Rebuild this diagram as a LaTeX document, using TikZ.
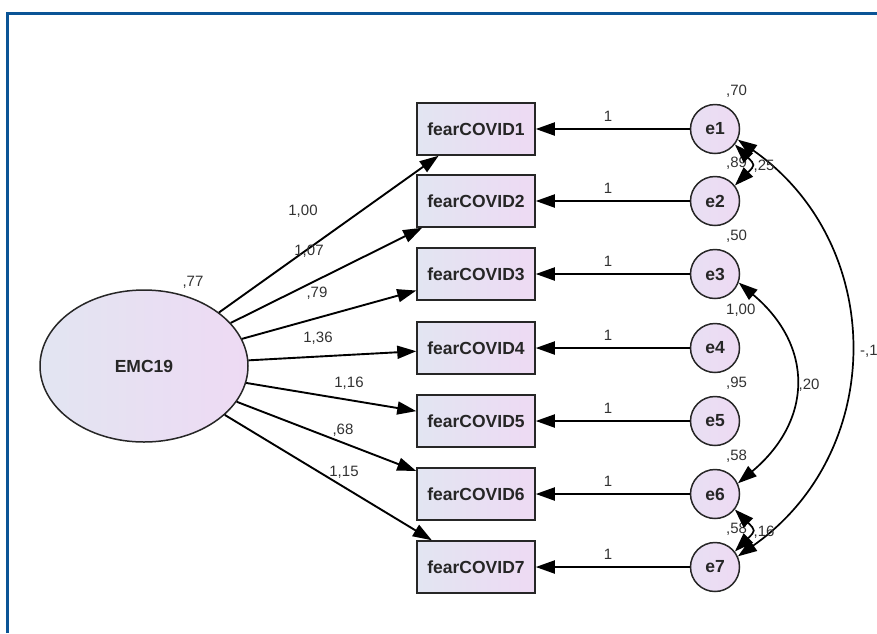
\documentclass[tikz,border=0pt]{standalone}
\usepackage{fontspec}
\setmainfont{Liberation Sans}
\usetikzlibrary{arrows.meta,shapes.geometric}
\definecolor{frameblue}{RGB}{10,84,150}
\definecolor{fillleft}{RGB}{226,229,242}
\definecolor{fillright}{RGB}{238,218,243}
\definecolor{labelgray}{RGB}{50,50,50}

\begin{document}
\begin{tikzpicture}[x=1pt,y=1pt,
        >={Triangle[length=19pt,width=13pt]},
        every node/.style={font=\fontsize{17.5}{20}\selectfont\bfseries, text=black!85},
        latent/.style={ellipse, draw=black!85, line width=1.5pt, inner sep=0pt,
            minimum width=208pt, minimum height=152pt,
            left color=fillleft, right color=fillright},
        observed/.style={rectangle, draw=black!85, line width=1.5pt, inner sep=0pt,
            minimum width=118pt, minimum height=52pt,
            left color=fillleft, right color=fillright},
        errnode/.style={circle, draw=black!85, line width=1.5pt, inner sep=0pt,
            minimum size=49pt,
            left color=fillleft!50!fillright, right color=fillright},
        regpath/.style={draw=black, line width=1.9pt, ->},
        covpath/.style={draw=black, line width=1.7pt, <->},
        estimate/.style={font=\fontsize{15}{17}\selectfont, text=labelgray, inner sep=0pt}]

    \useasboundingbox (0,0) rectangle (877,-633);
    \draw[frameblue, line width=3pt] (7.5,-633) |- (877,-13.7);

    % latent factor
    \node[latent] (emc) at (144,-366) {EMC19};
    \node[estimate] (emcvar) at (193,-282) {,77};

    % items and their errors
    \foreach \i/\y/\lx/\ly/\load/\var in {
            1/129/303/211/{1,00}/{,70},
            2/201/309/251/{1,07}/{,89},
            3/274/317/293/{,79}/{,50},
            4/348/318/338/{1,36}/{1,00},
            5/421/349/383/{1,16}/{,95},
            6/494/343/430/{,68}/{,58},
            7/567/344/472/{1,15}/{,58}} {
        \node[observed] (f\i) at (476,-\y) {fearCOVID\i};
        \node[errnode] (e\i) at (715,-\y) {e\i};
        \draw[regpath] (emc) -- (f\i);
        \draw[regpath] (e\i) -- (f\i);
        \node[estimate] (one\i) at (608,-\y+13) {1};
        \node[estimate] (load\i) at (\lx,-\ly) {\load};
        \node[estimate, anchor=west] (var\i) at (726,-\y+38) {\var};
    }

    % covariances
    \draw[covpath] (e1.-38) to[out=-45, in=45, looseness=1.8] (e2.38);
    \draw[covpath] (e3.-20) to[out=-40, in=40, looseness=1.25] (e6.25);
    \draw[covpath] (e1.-25) to[out=-35, in=35, looseness=1.12] (e7.25);
    \draw[covpath] (e6.-38) to[out=-45, in=45, looseness=1.8] (e7.38);
    \node[estimate] (cov12) at (764,-166) {,25};
    \node[estimate] (cov36) at (809,-385) {,20};
    \node[estimate] (cov67) at (764,-532) {,16};
    \node[estimate, anchor=west] (cov17) at (860,-351) {-,1};
\end{tikzpicture}
\end{document}
